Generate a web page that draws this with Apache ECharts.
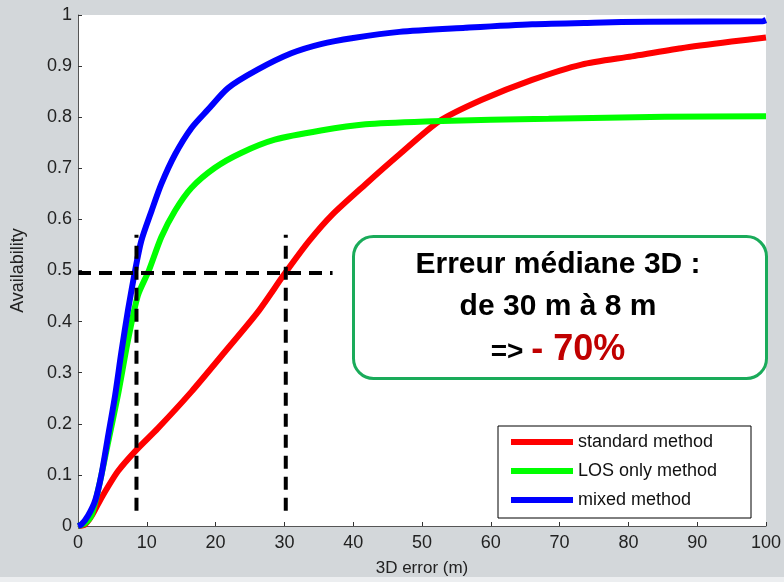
<!DOCTYPE html>
<html>
<head>
<meta charset="utf-8">
<script src="https://cdn.jsdelivr.net/npm/echarts@6/dist/echarts.min.js"></script>
<style>
html,body{margin:0;padding:0;background:#d3d7da;}
#chart{width:784px;height:582px;}
</style>
</head>
<body>
<div id="chart"></div>
<script>
// Series names
const seriesNames = ['standard method', 'LOS only method', 'mixed method'];
// [3D error (m), availability]
const standardData = [[0,0],[1,0.003],[2,0.02],[3.4,0.055],[5.8,0.107],[8.5,0.149],[11.6,0.191],[16.5,0.263],[21.3,0.34],[26.1,0.418],[30,0.493],[33.6,0.558],[37,0.61],[41.8,0.669],[46.7,0.727],[52.5,0.792],[58.7,0.834],[66,0.873],[73.2,0.903],[80.5,0.919],[87.7,0.935],[95,0.948],[100,0.956]];
const losOnlyData = [[0,0],[1,0.005],[2,0.022],[3.2,0.087],[4.4,0.165],[5.8,0.256],[7.3,0.366],[8.7,0.451],[10.3,0.5],[12.1,0.565],[14.1,0.617],[16.5,0.662],[19.9,0.701],[23.7,0.73],[28.6,0.756],[35.3,0.774],[41.8,0.786],[51.5,0.792],[60,0.795],[68.4,0.797],[85.3,0.801],[100,0.802]];
const mixedData = [[0,0],[0.5,0.003],[1.45,0.02],[2.5,0.05],[3.4,0.1],[4.4,0.178],[5.4,0.256],[6.3,0.34],[7.3,0.425],[8.3,0.5],[9.2,0.558],[10.7,0.617],[12.1,0.669],[14.1,0.727],[16.5,0.779],[18.9,0.815],[21.8,0.857],[26.1,0.893],[31,0.925],[35.3,0.943],[40,0.955],[46.7,0.967],[56.3,0.975],[66,0.982],[75,0.985],[83,0.987],[99.5,0.988],[100,0.99]];
// Median guide lines
const medianLevel = 0.495;
const medianHLineX = [0, 37];
const medianXs = [8.5, 30.2];
const medianVLineY = [0.03, 0.57];
// Axes ticks
const xTicks = [0,10,20,30,40,50,60,70,80,90,100];
const yTicks = [0,0.1,0.2,0.3,0.4,0.5,0.6,0.7,0.8,0.9,1];
// Annotation text
const annotLines = ['Erreur médiane 3D :', 'de 30 m à 8 m'];
const annotPrefix = '=> ';
const annotReduction = '- 70%';

const colors = ['#ff0000', '#00ff00', '#0000ff'];
const font = '"Liberation Sans", Arial, Helvetica, sans-serif';

const chart = echarts.init(document.getElementById('chart'));

const mainSeries = [standardData, losOnlyData, mixedData].map((d, i) => ({
  name: seriesNames[i],
  type: 'line',
  data: d,
  smooth: 0.25,
  showSymbol: false,
  symbol: 'none',
  lineStyle: { color: colors[i], width: 6 },
  itemStyle: { color: colors[i] },
  z: 2 + i,
  silent: true
}));

const dashStyle = { color: '#000', width: 4, type: [13, 8] };
const guideSeries = [
  {
    type: 'line',
    data: medianHLineX.map(x => [x, medianLevel]),
    symbol: 'none', lineStyle: dashStyle, z: 6, silent: true
  }
].concat(medianXs.map(x => ({
  type: 'line',
  data: medianVLineY.map(y => [x, y]),
  symbol: 'none', lineStyle: dashStyle, z: 6, silent: true
})));

const option = {
  animation: false,
  backgroundColor: '#d3d7da',
  textStyle: { fontFamily: font },
  grid: { left: 78, right: 17, top: 15, bottom: 54, show: true, backgroundColor: '#ffffff', borderWidth: 0 },
  xAxis: {
    type: 'value',
    min: xTicks[0], max: xTicks[xTicks.length - 1], interval: xTicks[1] - xTicks[0],
    name: '3D error (m)', nameLocation: 'middle', nameGap: 34,
    nameTextStyle: { fontSize: 17, color: '#222', fontFamily: font },
    axisLine: { show: true, lineStyle: { color: '#555', width: 1 } },
    axisTick: { show: true, inside: true, length: 4, lineStyle: { color: '#333' } },
    axisLabel: { fontSize: 18, color: '#222', margin: 8, fontFamily: font },
    splitLine: { show: false }
  },
  yAxis: {
    type: 'value',
    min: yTicks[0], max: yTicks[yTicks.length - 1], interval: 0.1,
    name: 'Availability', nameLocation: 'middle', nameGap: 51, nameRotate: 90,
    nameTextStyle: { fontSize: 18, color: '#222', fontFamily: font },
    axisLine: { show: true, lineStyle: { color: '#555', width: 1 } },
    axisTick: { show: true, inside: true, length: 4, lineStyle: { color: '#333' } },
    axisLabel: { fontSize: 18, color: '#222', margin: 6, fontFamily: font,
      formatter: v => String(Math.round(v * 10) / 10) },
    splitLine: { show: false }
  },
  legend: {
    data: seriesNames,
    orient: 'vertical',
    left: 498, top: 426,
    icon: 'rect',
    itemWidth: 62, itemHeight: 6, itemGap: 9,
    padding: [6, 15, 8, 13],
    backgroundColor: '#ffffff',
    borderColor: '#000', borderWidth: 1, borderRadius: 0,
    selectedMode: false,
    textStyle: { fontSize: 18, color: '#111', lineHeight: 20, width: 158, fontFamily: font }
  },
  graphic: [
    { type: 'rect', left: 0, top: 577, z: -1, silent: true,
      shape: { width: 784, height: 5 }, style: { fill: '#eceef0' } },
    { type: 'rect', left: 352, top: 235, z: 100, silent: true,
      shape: { width: 413, height: 142, r: 20 },
      style: { fill: '#ffffff', stroke: '#1aab5a', lineWidth: 3 } },
    { type: 'text', x: 558, y: 265, z: 101, silent: true,
      style: { text: annotLines[0], font: 'bold 30px ' + font, fill: '#000', align: 'center', verticalAlign: 'middle' } },
    { type: 'text', x: 558, y: 307, z: 101, silent: true,
      style: { text: annotLines[1], font: 'bold 30px ' + font, fill: '#000', align: 'center', verticalAlign: 'middle' } },
    { type: 'text', x: 558, y: 348, z: 101, silent: true,
      style: {
        text: '{a|' + annotPrefix + '}{b|' + annotReduction + '}',
        align: 'center', verticalAlign: 'middle',
        rich: {
          a: { font: 'bold 28px ' + font, fill: '#000', verticalAlign: 'bottom', lineHeight: 40, padding: [0, 0, 2, 0] },
          b: { font: 'bold 36px ' + font, fill: '#c00000', verticalAlign: 'bottom', lineHeight: 40 }
        }
      } }
  ],
  series: mainSeries.concat(guideSeries)
};
chart.setOption(option);
</script>
</body>
</html>
